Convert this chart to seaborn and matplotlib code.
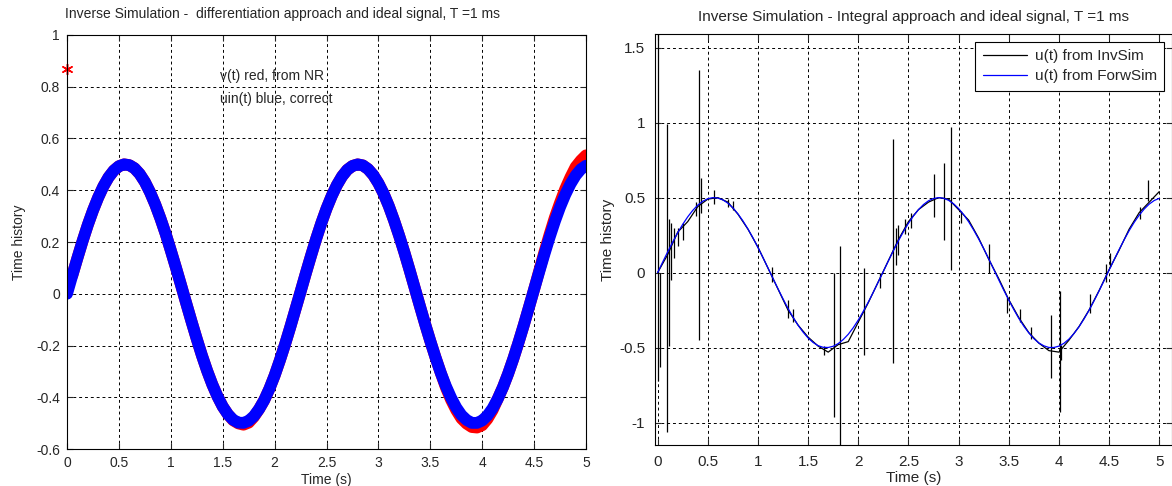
import numpy as np
import pandas as pd
import seaborn as sns
import matplotlib
matplotlib.use("Agg")
import matplotlib.pyplot as plt

# sample times (s) for the ideal signal and the NR solution
t_fine = [0.0, 0.05, 0.1, 0.15, 0.2, 0.25, 0.3, 0.35, 0.4, 0.45,
          0.5, 0.55, 0.6, 0.65, 0.7, 0.75, 0.8, 0.85, 0.9, 0.95,
          1.0, 1.05, 1.1, 1.15, 1.2, 1.25, 1.3, 1.35, 1.4, 1.45,
          1.5, 1.55, 1.6, 1.65, 1.7, 1.75, 1.8, 1.85, 1.9, 1.95,
          2.0, 2.05, 2.1, 2.15, 2.2, 2.25, 2.3, 2.35, 2.4, 2.45,
          2.5, 2.55, 2.6, 2.65, 2.7, 2.75, 2.8, 2.85, 2.9, 2.95,
          3.0, 3.05, 3.1, 3.15, 3.2, 3.25, 3.3, 3.35, 3.4, 3.45,
          3.5, 3.55, 3.6, 3.65, 3.7, 3.75, 3.8, 3.85, 3.9, 3.95,
          4.0, 4.05, 4.1, 4.15, 4.2, 4.25, 4.3, 4.35, 4.4, 4.45,
          4.5, 4.55, 4.6, 4.65, 4.7, 4.75, 4.8, 4.85, 4.9, 4.95, 5.0]
u_ideal = [0.0, 0.070, 0.138, 0.204, 0.266, 0.322, 0.372, 0.415, 0.450, 0.476,
           0.493, 0.500, 0.497, 0.485, 0.463, 0.432, 0.392, 0.345, 0.291, 0.232,
           0.167, 0.100, 0.031, -0.039, -0.108, -0.175, -0.239, -0.298, -0.351, -0.397,
           -0.436, -0.466, -0.487, -0.498, -0.499, -0.491, -0.473, -0.446, -0.411, -0.367,
           -0.316, -0.258, -0.196, -0.130, -0.061, 0.008, 0.078, 0.146, 0.212, 0.273,
           0.329, 0.378, 0.420, 0.454, 0.479, 0.494, 0.500, 0.496, 0.482, 0.459,
           0.427, 0.387, 0.339, 0.284, 0.224, 0.160, 0.092, 0.022, -0.048, -0.117,
           -0.183, -0.246, -0.305, -0.357, -0.402, -0.440, -0.469, -0.488, -0.499, -0.499,
           -0.490, -0.471, -0.443, -0.406, -0.361, -0.309, -0.251, -0.188, -0.122, -0.053,
           0.017, 0.086, 0.154, 0.219, 0.280, 0.335, 0.383, 0.424, 0.457, 0.481, 0.495]
# v(t) from Newton-Raphson (first sample is the odd starting value)
v_nr = [0.867, 0.070, 0.138, 0.204, 0.266, 0.322, 0.372, 0.415, 0.450, 0.476,
        0.493, 0.500, 0.497, 0.485, 0.463, 0.432, 0.392, 0.345, 0.291, 0.232,
        0.167, 0.100, 0.031, -0.039, -0.108, -0.175, -0.239, -0.298, -0.351, -0.397,
        -0.436, -0.466, -0.489, -0.501, -0.506, -0.498, -0.476, -0.446, -0.411, -0.367,
        -0.316, -0.258, -0.196, -0.130, -0.061, 0.008, 0.078, 0.146, 0.212, 0.273,
        0.329, 0.378, 0.420, 0.454, 0.479, 0.494, 0.500, 0.496, 0.482, 0.459,
        0.427, 0.387, 0.339, 0.284, 0.224, 0.160, 0.092, 0.022, -0.048, -0.117,
        -0.183, -0.246, -0.305, -0.362, -0.410, -0.450, -0.482, -0.502, -0.515, -0.517,
        -0.508, -0.484, -0.450, -0.406, -0.361, -0.309, -0.251, -0.188, -0.122, -0.053,
        0.017, 0.090, 0.162, 0.230, 0.295, 0.352, 0.405, 0.450, 0.490, 0.515, 0.535]

# u(t) from inverse simulation (integral approach), smooth part
t_inv = [0.0, 0.1, 0.2, 0.3, 0.4, 0.5, 0.6, 0.7, 0.8, 0.9,
         1.0, 1.1, 1.2, 1.3, 1.4, 1.5, 1.6, 1.7, 1.8, 1.9,
         2.0, 2.1, 2.2, 2.3, 2.4, 2.5, 2.6, 2.7, 2.8, 2.9,
         3.0, 3.1, 3.2, 3.3, 3.4, 3.5, 3.6, 3.7, 3.8, 3.9,
         4.0, 4.1, 4.2, 4.3, 4.4, 4.5, 4.6, 4.7, 4.8, 4.9, 5.0]
u_inv = [0.0, 0.12, 0.27, 0.34, 0.44, 0.49, 0.50, 0.47, 0.39, 0.29,
         0.17, 0.03, -0.11, -0.25, -0.35, -0.43, -0.49, -0.53, -0.48, -0.46,
         -0.33, -0.20, -0.06, 0.08, 0.22, 0.34, 0.42, 0.47, 0.50, 0.49,
         0.42, 0.35, 0.23, 0.09, -0.04, -0.18, -0.30, -0.40, -0.47, -0.52,
         -0.53, -0.45, -0.36, -0.25, -0.12, 0.02, 0.15, 0.29, 0.40, 0.47, 0.54]
# spikes in the inverse simulation output: time, low, high
spike_t = [0.005, 0.02, 0.09, 0.11, 0.13, 0.16, 0.20, 0.25, 0.38, 0.41, 0.43, 0.56,
           0.70, 0.75, 1.14, 1.30, 1.35, 1.66, 1.76, 1.82, 2.06, 2.22, 2.35, 2.38,
           2.40, 2.47, 2.53, 2.75, 2.85, 2.92, 3.02, 3.30, 3.48, 3.61, 3.72, 3.92,
           4.01, 4.02, 4.31, 4.47, 4.51, 4.81, 4.89]
spike_lo = [-0.72, -0.63, -1.06, -0.49, -0.05, 0.10, 0.18, 0.22, 0.38, -0.45, 0.40, 0.46,
            0.44, 0.42, -0.06, -0.30, -0.33, -0.55, -0.96, -1.15, -0.55, -0.10, -0.60, 0.05,
            0.12, 0.26, 0.30, 0.37, 0.22, 0.02, 0.33, 0.00, -0.27, -0.33, -0.44, -0.70,
            -0.93, -0.58, -0.27, -0.06, 0.04, 0.36, 0.48]
spike_hi = [1.59, 0.00, 0.99, 0.36, 0.33, 0.30, 0.30, 0.33, 0.47, 1.35, 0.63, 0.55,
            0.49, 0.48, 0.04, -0.18, -0.24, -0.49, 0.00, 0.18, 0.03, 0.00, 0.89, 0.30,
            0.32, 0.36, 0.40, 0.66, 0.73, 0.97, 0.41, 0.19, -0.16, -0.24, -0.36, -0.28,
            -0.12, -0.48, -0.14, 0.06, 0.13, 0.44, 0.62]

x_ticks = [0, 0.5, 1, 1.5, 2, 2.5, 3, 3.5, 4, 4.5, 5]
x_labels = ["0", "0.5", "1", "1.5", "2", "2.5", "3", "3.5", "4", "4.5", "5"]
yl_ticks = [-0.6, -0.4, -0.2, 0, 0.2, 0.4, 0.6, 0.8, 1]
yl_labels = ["-0.6", "-0.4", "-0.2", "0", "0.2", "0.4", "0.6", "0.8", "1"]
yr_ticks = [-1, -0.5, 0, 0.5, 1, 1.5]
yr_labels = ["-1", "-0.5", "0", "0.5", "1", "1.5"]

sns.set_style("ticks")
plt.rcParams["font.family"] = ["Liberation Sans", "DejaVu Sans"]

fig = plt.figure(figsize=(11.72, 4.86), dpi=100)
ax1 = fig.add_axes([0.0572, 0.0761, 0.4428, 0.8519])
ax2 = fig.add_axes([0.5589, 0.0844, 0.4411, 0.8457])

df = pd.DataFrame({"t": t_fine, "ideal": u_ideal, "nr": v_nr})
df_inv = pd.DataFrame({"t": t_inv, "inv": u_inv})

# left: differentiation approach
sns.lineplot(data=df.iloc[1:], x="t", y="nr", color="red", lw=8.5, ax=ax1,
             solid_capstyle="round", solid_joinstyle="round")
sns.lineplot(data=df, x="t", y="ideal", color="blue", lw=8.5, ax=ax1,
             solid_capstyle="round", solid_joinstyle="round")
sns.scatterplot(data=df.iloc[:1], x="t", y="nr", marker=(6, 2, 0), s=55,
                color="red", edgecolor="red", linewidth=1.1, ax=ax1, clip_on=False)
ax1.text(1.47, 0.84, "v(t) red, from NR", va="center", fontsize=10)
ax1.text(1.47, 0.753, "uin(t) blue, correct", va="center", fontsize=10)
ax1.set_xlim(0, 5)
ax1.set_ylim(-0.6, 1)
ax1.set_yticks(yl_ticks, yl_labels)
ax1.set_title("Inverse Simulation -  differentiation approach and ideal signal, T =1 ms",
              fontsize=10, pad=12, x=0.416)
ax1.set_xlabel("Time (s)", fontsize=10, labelpad=2)
ax1.set_ylabel("Time history", fontsize=10, labelpad=7)
ax1.tick_params(labelsize=10, pad=5)

# right: integral approach
ax2.vlines(spike_t, spike_lo, spike_hi, color="black", lw=0.9)
sns.lineplot(data=df_inv, x="t", y="inv", color="black", lw=0.9, ax=ax2,
             label="u(t) from InvSim")
sns.lineplot(data=df, x="t", y="ideal", color="blue", lw=0.9, ax=ax2,
             label="u(t) from ForwSim")
ax2.set_xlim(-0.026, 5.127)
ax2.set_ylim(-1.149, 1.591)
ax2.set_yticks(yr_ticks, yr_labels)
ax2.set_title("Inverse Simulation - Integral approach and ideal signal, T =1 ms",
              fontsize=11, pad=9)
ax2.set_xlabel("Time (s)", fontsize=11, labelpad=2)
ax2.set_ylabel("Time history", fontsize=11, labelpad=3)
ax2.tick_params(labelsize=11, pad=7)
leg = ax2.legend(loc="upper right", fancybox=False, framealpha=1, edgecolor="black",
                 handlelength=2.9, handletextpad=0.5, borderaxespad=0.5, fontsize=11,
                 borderpad=0.5, labelspacing=0.4)
leg.get_frame().set_linewidth(0.8)

for ax in (ax1, ax2):
    ax.set_xticks(x_ticks, x_labels)
    ax.grid(True, color="black", linestyle=(0, (3, 3)), lw=0.7)
    ax.tick_params(direction="in", length=4, top=True, right=True)
    for s in ax.spines.values():
        s.set_visible(True)
        s.set_color("black")
        s.set_linewidth(0.8)

fig.savefig("out.png", dpi=100)
